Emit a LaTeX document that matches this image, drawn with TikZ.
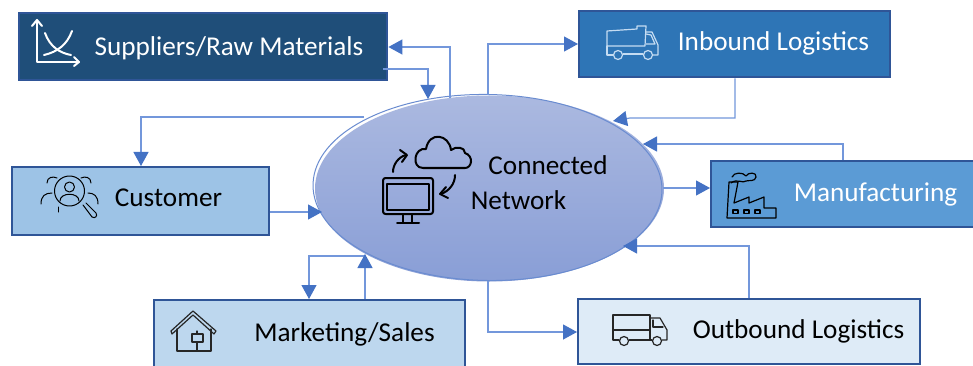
\documentclass[tikz,border=0pt]{standalone}
\usepackage{fontspec}
\setmainfont{Carlito}
\usetikzlibrary{arrows.meta,shapes.geometric}
\definecolor{border}{HTML}{2F5597}
\definecolor{tip}{HTML}{4472C4}
\definecolor{wire}{HTML}{7397DB}
\definecolor{ringc}{HTML}{6A8CD0}
\definecolor{netA}{HTML}{ABB9E0}
\definecolor{netB}{HTML}{899ED6}
\definecolor{c1}{HTML}{1F4E79}
\definecolor{c2}{HTML}{9DC3E6}
\definecolor{c3}{HTML}{2E75B6}
\definecolor{c4}{HTML}{5B9BD5}
\definecolor{c5}{HTML}{BDD7EE}
\definecolor{c6}{HTML}{DEEBF7}
\definecolor{icond}{HTML}{262626}
\definecolor{truckc}{HTML}{C5DCF2}
\tikzset{
  boxn/.style={draw=border,line width=2.4pt,rectangle,inner sep=0pt,anchor=north west},
  lab/.style={font=\fontsize{27.2}{30}\selectfont,inner sep=0pt},
  wht/.style={lab,text=white},
  blk/.style={lab,text=black},
  conn/.style={draw=wire,line width=1.2pt,-{Triangle[length=14pt,width=15pt,color=tip]}},
  ico/.style={line width=1.2pt,line join=round,line cap=round},
  icothick/.style={line width=2pt,line join=round,line cap=round}
}
\begin{document}
\begin{tikzpicture}[x=1pt,y=-1pt]
\clip (0,0) rectangle (973,366);
\fill[white] (0,0) rectangle (973,366);
% central network
\node[ellipse,inner sep=0pt,minimum width=349pt,minimum height=186pt,top color=netA,bottom color=netB] (net) at (489.5,188.5) {};
\node[ellipse,inner sep=0pt,minimum width=349pt,minimum height=186pt,draw=ringc,line width=1pt,rotate=-1] (ring) at (487.5,187.5) {};
% boxes
\node[boxn,fill=c1,minimum width=368pt,minimum height=67pt] (sup) at (18,12) {};
\node[boxn,fill=c2,minimum width=257pt,minimum height=68pt] (cus) at (11,166) {};
\node[boxn,fill=c3,minimum width=311pt,minimum height=66pt] (inb) at (578,10) {};
\node[boxn,fill=c4,minimum width=280pt,minimum height=66pt] (man) at (710,160) {};
\node[boxn,fill=c5,minimum width=311pt,minimum height=80pt] (mar) at (153,299) {};
\node[boxn,fill=c6,minimum width=342pt,minimum height=65pt] (out) at (577,298) {};
% labels
\node[wht] (tsup) at (229,48.5) {Suppliers/Raw Materials};
\node[blk] (tcus) at (168.5,197.5) {Customer};
\node[wht] (tinb) at (773.5,43) {Inbound Logistics};
\node[wht] (tman) at (875.5,194) {Manufacturing};
\node[blk] (tmar) at (344.5,334.5) {Marketing/Sales};
\node[blk] (tout) at (798.5,331.5) {Outbound Logistics};
\node[blk] (tcon) at (548,165.5) {Connected};
\node[blk] (tnet) at (518.5,200.5) {Network};
% anchor points on the network
\coordinate (n1) at (450,98);
\coordinate (n2) at (428,99);
\coordinate (n3) at (364,117);
\coordinate (n4) at (322,212);
\coordinate (n5) at (488,95);
\coordinate (n6) at (613,121);
\coordinate (n7) at (643,144);
\coordinate (n8) at (663,188);
\coordinate (n9) at (623,246);
\coordinate (n10) at (488,281);
\coordinate (n11) at (365,256);
\coordinate (n12) at (365,254);
% connectors
\draw[conn] (n1) -- (450,47) -- (sup.east |- 0,47);
\draw[conn] (383,69) -- (428,69) -- (n2);
\draw[conn] (n3) -- (141,117) -- (cus.north -| 141,0);
\draw[conn] (cus.east |- 0,212) -- (n4);
\draw[conn] (n5) -- (488,44) -- (inb.west |- 0,44);
\draw[conn] (inb.south -| 735,0) -- (735,118) -- (630,118) -- (n6);
\draw[conn] (man.north -| 843,0) -- (843,144) -- (n7);
\draw[conn] (n8) -- (man.west |- 0,188);
\draw[conn] (out.north -| 749,0) -- (749,246) -- (n9);
\draw[conn] (n10) -- (488,332) -- (out.west |- 0,332);
\draw[conn] (n11) -- (309,256) -- (mar.north -| 309,0);
\draw[conn] (mar.north -| 365,0) -- (n12);
% chart icon
\begin{scope}[white,icothick]
\draw (37,22) -- (37,62) -- (77,62);
\draw (32,26) -- (37,20) -- (42,26);
\draw (74,57) -- (79,62) -- (74,66);
\draw (45,33) .. controls (50,47) and (60,53) .. (71,55);
\draw (72,31) .. controls (67,45) and (57,52) .. (44,55);
\end{scope}
% customer icon
\begin{scope}[black,ico,line width=1pt]
\draw (69.5,191) circle (15);
\draw (69.5,187) circle (5);
\draw (60,201) .. controls (60,192) and (79,192) .. (79,201);
\draw (47,183) .. controls (47,177) and (53,176) .. (57,178);
\draw (91,183) .. controls (91,177) and (85,176) .. (81,178);
\draw (41,204) .. controls (41,196) and (45,193) .. (52,193);
\draw (98,204) .. controls (98,196) and (94,193) .. (88,193);
\draw (58,207) -- (58,212);
\draw (83,205) -- (92,217) .. controls (95,219) and (98,216) .. (96,213) -- (86,203);
\end{scope}
% dump truck icon
\begin{scope}[truckc,ico]
\draw (607,31) -- (637,29) -- (637,26) -- (646,26) -- (645,46) -- (607,46) -- cycle;
\draw (646,32) -- (652,32) -- (658,45) -- (658,55) -- (653,55);
\draw (646,34) -- (651,35) -- (655,44) -- (646,44);
\draw (607,46) -- (607,55) -- (613,55);
\draw (623,54) -- (643,54);
\draw (618,55) circle (4.5);
\draw (648,55) circle (4.5);
\end{scope}
% factory icon
\begin{scope}[black,ico]
\draw (734,203) -- (749,197) -- (749,203) -- (764,197) -- (764,208) -- (776,208) -- (776,218) -- (727,218) -- (729,182) -- (738,182) -- cycle;
\draw (732,177) .. controls (734,172) and (743,172) .. (746,176) .. controls (748,172) and (757,172) .. (756,177) .. controls (755,182) and (749,180) .. (746,181) .. controls (743,184) and (737,178) .. (731,183);
\draw (733,210) rectangle (738,213.5);
\draw (744,210) rectangle (749,213.5);
\draw (755,210) rectangle (760,213.5);
\end{scope}
% house icon
\begin{scope}[icond,ico]
\draw (171,331) -- (193,311) -- (216,331) -- (214,334) -- (193,315) -- (172,334) -- cycle;
\draw (177,329) -- (177,351) -- (211,351) -- (211,329);
\draw (192,334) rectangle (203,342);
\draw (197,331) -- (197,334);
\draw (197,342) -- (197,351);
\end{scope}
% delivery truck icon
\begin{scope}[icond,ico]
\draw (619,340) -- (613,340) -- (613,315) -- (650,315) -- (650,340) -- (629,340);
\draw (613,330) -- (650,330);
\draw (650,318) -- (660,318) -- (667,330) -- (667,340) -- (662,340);
\draw (652,340) -- (650,340);
\draw (653,320) -- (653,327) -- (663,327);
\draw (624,341) circle (4.5);
\draw (657,341) circle (4.5);
\end{scope}
% network icon
\begin{scope}[black,icothick]
\draw[rounded corners=2.5pt] (383,178) rectangle (433,214);
\draw (387,184) rectangle (429,210);
\draw (403,214) -- (403,222);
\draw (412,214) -- (412,222);
\draw (397,223) -- (419,223);
\draw (423,168) -- (465,168) .. controls (472,168) and (474,156) .. (465,153) .. controls (465,147) and (456,146) .. (451,150) .. controls (449,134) and (429,131) .. (426,149) .. controls (414,147) and (411,168) .. (423,168) -- cycle;
\draw (393,172) .. controls (393,165) and (398,157) .. (406,155);
\draw (400,150) -- (407,155) -- (402,162);
\draw (455,175) .. controls (455,184) and (449,191) .. (441,194);
\draw (446,187) -- (440,194) -- (448,198);
\end{scope}
\end{tikzpicture}
\end{document}
